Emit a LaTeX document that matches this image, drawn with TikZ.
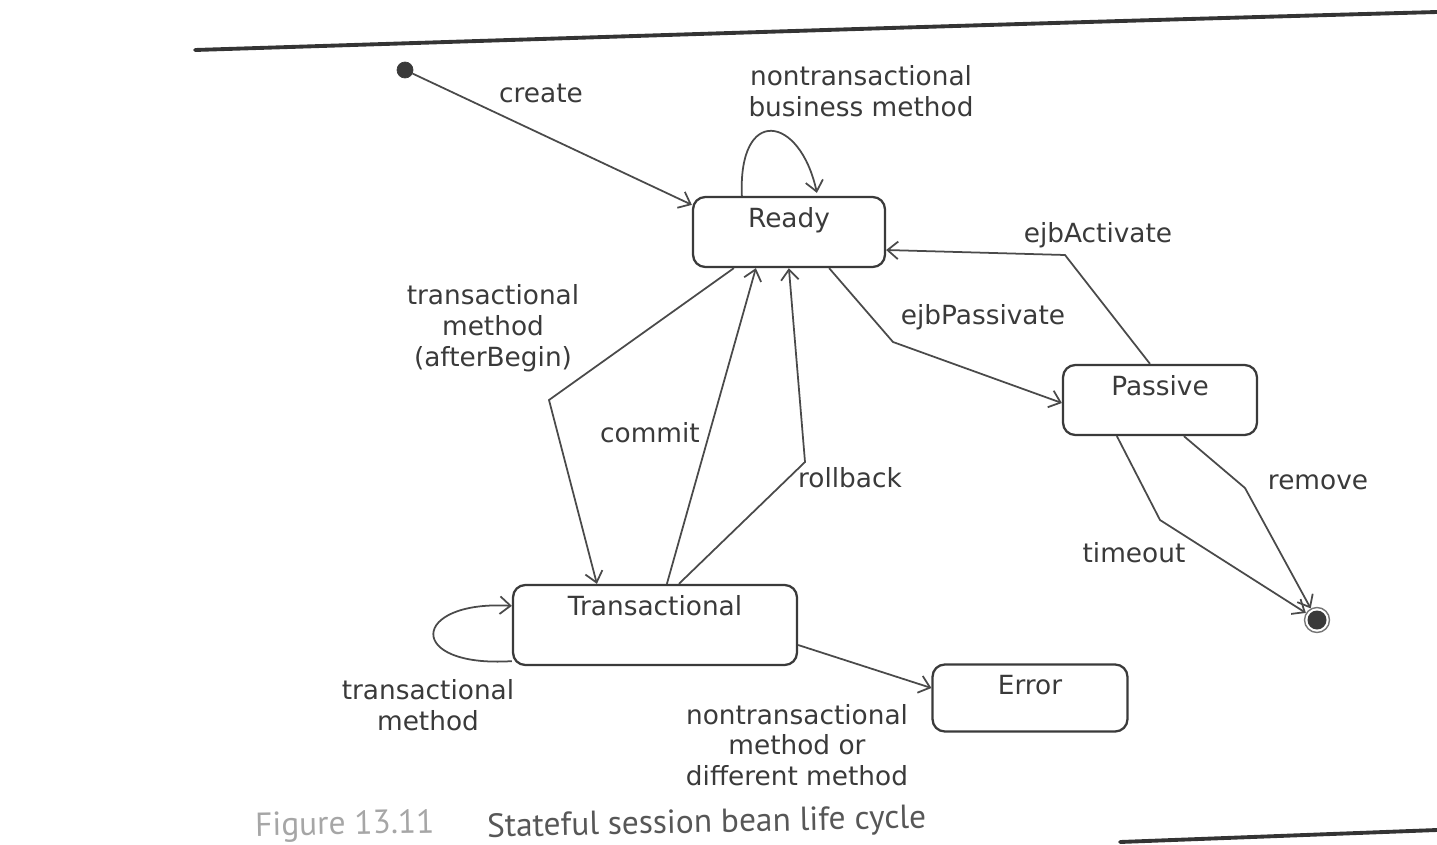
\documentclass[tikz,border=0pt]{standalone}
\usepackage{fontspec}
\setmainfont{DejaVu Sans}
\newfontfamily\capfont{PT Sans}
\usetikzlibrary{arrows.meta,calc}

\definecolor{ink}{HTML}{3A3A3A}
\definecolor{wire}{HTML}{4A4A4A}

\tikzset{
  state/.style={draw=ink, line width=1.3pt, rounded corners=7pt, inner sep=0pt},
  statename/.style={text=ink, font=\fontsize{15}{17.5}\selectfont},
  trans/.style={draw=wire, line width=1pt,
    -{Straight Barb[length=6pt,width=10pt,line width=1pt]}},
  lbl/.style={text=ink, font=\fontsize{15}{17.5}\selectfont, align=center, inner sep=0pt},
  rule/.style={draw=ink!90!black, line width=2.2pt, line cap=round}
}

\begin{document}
\begin{tikzpicture}[x=0.02cm, y=-0.02cm]
  \useasboundingbox (0,0) rectangle (1437,845);

  % page rules
  \draw[rule] (195,50) .. controls (700,34) and (1000,24) .. (1437,12);
  \draw[rule] (1120,842) -- (1437,830);

  % states
  \node[state, minimum width=3.84cm, minimum height=1.4cm,
        label={[statename, anchor=north, yshift=-3pt]north:Ready}] (ready) at (789,232) {};
  \node[state, minimum width=3.88cm, minimum height=1.4cm,
        label={[statename, anchor=north, yshift=-3pt]north:Passive}] (passive) at (1160,400) {};
  \node[state, minimum width=5.68cm, minimum height=1.6cm,
        label={[statename, anchor=north, yshift=-3pt]north:Transactional}] (tx) at (655,625) {};
  \node[state, minimum width=3.9cm, minimum height=1.34cm,
        label={[statename, anchor=north, yshift=-3pt]north:Error}] (error) at (1030,698) {};

  % pseudo states
  \node[circle, fill=ink, draw=ink, minimum size=0.32cm, inner sep=0pt] (init) at (405,70) {};
  \node[circle, draw=ink!70, line width=0.8pt, minimum size=0.5cm, inner sep=0pt] (final) at (1317,620) {};
  \node[circle, fill=ink, minimum size=0.38cm, inner sep=0pt] (finaldot) at (final.center) {};

  % bend points
  \coordinate (bAct) at (1065,255);
  \coordinate (bPas) at (893,342);
  \coordinate (bBeg) at (549,400);
  \coordinate (bRol) at (805,462);
  \coordinate (bRem) at (1245,488);
  \coordinate (bTim) at (1160,520);

  % transitions
  \draw[trans] (init) -- ($(ready.north west)+(0,9)$);
  \draw[trans] ($(ready.north west)+(50,0)$) .. controls (738,105) and (800,115) .. ($(ready.north west)+(125,-3)$);
  \draw[trans] ($(passive.north)+(-10,0)$) -- (bAct) -- ($(ready.east)+(0,18)$);
  \draw[trans] ($(ready.south east)+(-57,0)$) -- (bPas) -- ($(passive.west)+(0,3)$);
  \draw[trans] ($(ready.south west)+(42,0)$) -- (bBeg) -- ($(tx.north west)+(85,0)$);
  \draw[trans] ($(tx.north west)+(155,0)$) -- ($(ready.south west)+(64,0)$);
  \draw[trans] ($(tx.north west)+(167,0)$) -- (bRol) -- ($(ready.south west)+(97,0)$);
  \draw[trans] ($(passive.south west)+(122,0)$) -- (bRem) -- (final);
  \draw[trans] ($(passive.south west)+(55,0)$) -- (bTim) -- (final);
  \draw[trans] ($(tx.south west)+(0,-5)$) .. controls (405,668) and (410,600) .. ($(tx.north west)+(0,22)$);
  \draw[trans] ($(tx.east)+(0,20)$) -- ($(error.west)+(0,-10)$);

  % transition labels
  \node[lbl] (lcreate) at (541,93) {create};
  \node[lbl] (lnbm) at (861,91) {nontransactional\\business method};
  \node[lbl] (lact) at (1098,235) {ejbActivate};
  \node[lbl] (lpas) at (983,317) {ejbPassivate};
  \node[lbl] (lbeg) at (493,328) {transactional\\method\\(afterBegin)};
  \node[lbl] (lcom) at (650,433) {commit};
  \node[lbl] (lrol) at (850,478) {rollback};
  \node[lbl] (lrem) at (1318,482) {remove};
  \node[lbl] (ltim) at (1134,553) {timeout};
  \node[lbl] (ltm) at (428,705) {transactional\\method};
  \node[lbl] (lnon) at (797,745) {nontransactional\\method or\\different method};

  % caption
  \node[text=ink!45, font=\capfont\fontsize{19}{20}\selectfont, anchor=base west, rotate=1, inner sep=0pt] (capnum) at (255,836) {Figure 13.11};
  \node[text=ink!85, font=\capfont\fontsize{19}{20}\selectfont, anchor=base west, rotate=1.2, inner sep=0pt] (captext) at (487,837) {Stateful session bean life cycle};
\end{tikzpicture}
\end{document}
